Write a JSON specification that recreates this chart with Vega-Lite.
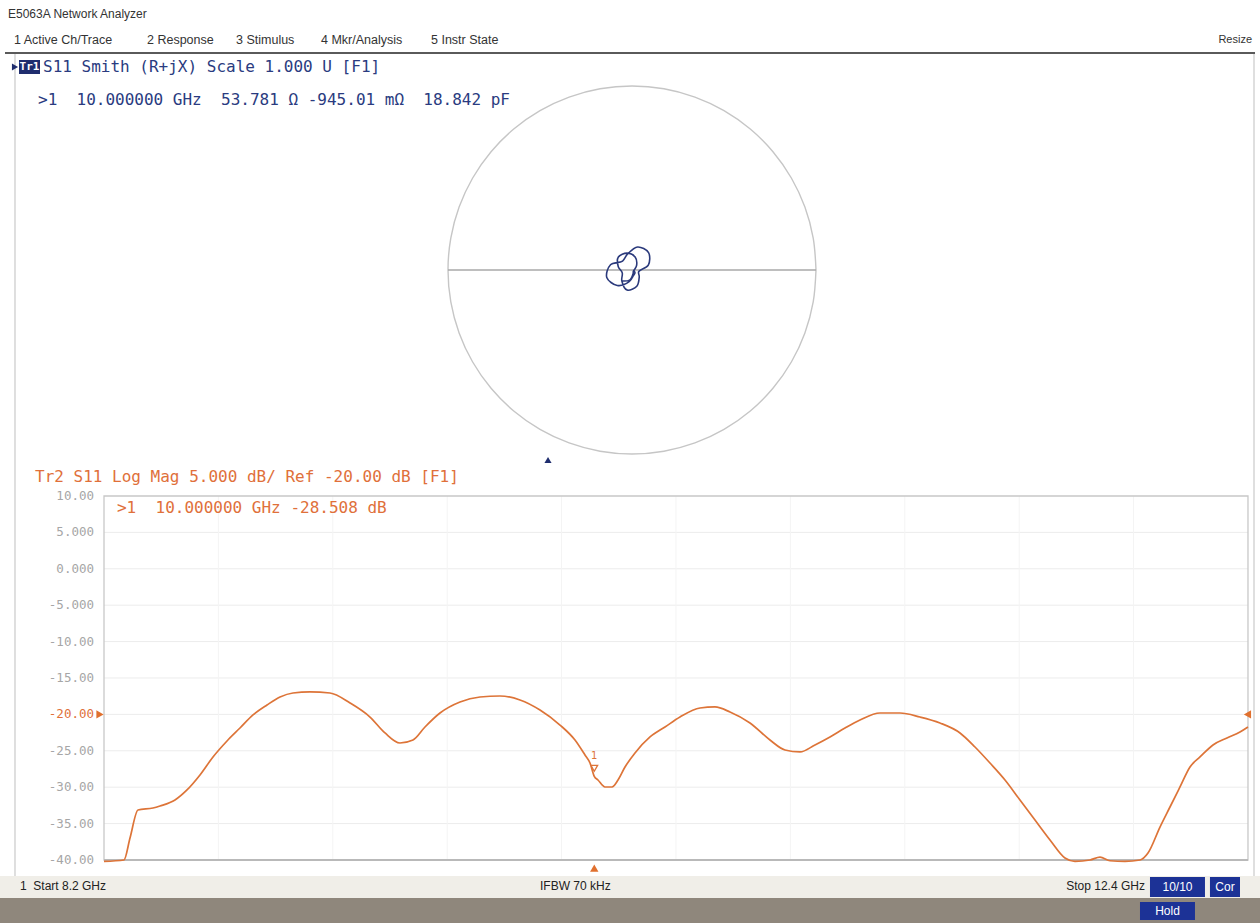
{
  "$schema": "https://vega.github.io/schema/vega-lite/v6.json",
  "width": 1260,
  "height": 923,
  "autosize": {"type": "fit", "contains": "padding"},
  "padding": 0,
  "background": "#ffffff",
  "config": {"view": {"stroke": null}},
  "resolve": {"scale": {"x": "independent", "y": "independent"}},
  "layer": [
    {
      "layer": [
        {
          "data": {"values": [{"re": -3.4076, "re2": 3.3859, "im": 1.1793}]},
          "mark": {"type": "rule", "color": "#5a5a5a", "strokeWidth": 2},
          "encoding": {
            "x": {"field": "re", "type": "quantitative", "scale": {"domain": [-3.4348, 3.413], "nice": false, "zero": false}, "axis": null},
            "x2": {"field": "re2"},
            "y": {"field": "im", "type": "quantitative", "scale": {"domain": [-3.5489, 1.4674], "nice": false, "zero": false}, "axis": null}
          }
        },
        {
          "data": {"values": [{"re": -3.3533, "im": 1.1739, "im2": -3.2935}, {"re": 3.3804, "im": 1.1739, "im2": -3.2935}]},
          "mark": {"type": "rule", "color": "#d4d4d4", "strokeWidth": 1.5},
          "encoding": {
            "x": {"field": "re", "type": "quantitative", "scale": {"domain": [-3.4348, 3.413], "nice": false, "zero": false}, "axis": null},
            "y": {"field": "im", "type": "quantitative", "scale": {"domain": [-3.5489, 1.4674], "nice": false, "zero": false}, "axis": null},
            "y2": {"field": "im2"}
          }
        },
        {
          "data": {"values": [
            {"i": 0, "re": 1, "im": 0}, {"i": 1, "re": 0.9848, "im": 0.1736}, {"i": 2, "re": 0.9397, "im": 0.342},
            {"i": 3, "re": 0.866, "im": 0.5}, {"i": 4, "re": 0.766, "im": 0.6428}, {"i": 5, "re": 0.6428, "im": 0.766},
            {"i": 6, "re": 0.5, "im": 0.866}, {"i": 7, "re": 0.342, "im": 0.9397}, {"i": 8, "re": 0.1736, "im": 0.9848},
            {"i": 9, "re": 0, "im": 1}, {"i": 10, "re": -0.1736, "im": 0.9848}, {"i": 11, "re": -0.342, "im": 0.9397},
            {"i": 12, "re": -0.5, "im": 0.866}, {"i": 13, "re": -0.6428, "im": 0.766}, {"i": 14, "re": -0.766, "im": 0.6428},
            {"i": 15, "re": -0.866, "im": 0.5}, {"i": 16, "re": -0.9397, "im": 0.342}, {"i": 17, "re": -0.9848, "im": 0.1736},
            {"i": 18, "re": -1, "im": 0}, {"i": 19, "re": -0.9848, "im": -0.1736}, {"i": 20, "re": -0.9397, "im": -0.342},
            {"i": 21, "re": -0.866, "im": -0.5}, {"i": 22, "re": -0.766, "im": -0.6428}, {"i": 23, "re": -0.6428, "im": -0.766},
            {"i": 24, "re": -0.5, "im": -0.866}, {"i": 25, "re": -0.342, "im": -0.9397}, {"i": 26, "re": -0.1736, "im": -0.9848},
            {"i": 27, "re": 0, "im": -1}, {"i": 28, "re": 0.1736, "im": -0.9848}, {"i": 29, "re": 0.342, "im": -0.9397},
            {"i": 30, "re": 0.5, "im": -0.866}, {"i": 31, "re": 0.6428, "im": -0.766}, {"i": 32, "re": 0.766, "im": -0.6428},
            {"i": 33, "re": 0.866, "im": -0.5}, {"i": 34, "re": 0.9397, "im": -0.342}, {"i": 35, "re": 0.9848, "im": -0.1736},
            {"i": 36, "re": 1, "im": 0}
          ]},
          "mark": {"type": "line", "color": "#c6c6c6", "strokeWidth": 1.4, "interpolate": "catmull-rom"},
          "encoding": {
            "x": {"field": "re", "type": "quantitative", "scale": {"domain": [-3.4348, 3.413], "nice": false, "zero": false}, "axis": null},
            "y": {"field": "im", "type": "quantitative", "scale": {"domain": [-3.5489, 1.4674], "nice": false, "zero": false}, "axis": null},
            "order": {"field": "i", "type": "quantitative"}
          }
        },
        {
          "data": {"values": [{"re": -1, "re2": 1, "im": 0}]},
          "mark": {"type": "rule", "color": "#a9a9a9", "strokeWidth": 1.6},
          "encoding": {
            "x": {"field": "re", "type": "quantitative", "scale": {"domain": [-3.4348, 3.413], "nice": false, "zero": false}, "axis": null},
            "x2": {"field": "re2"},
            "y": {"field": "im", "type": "quantitative", "scale": {"domain": [-3.5489, 1.4674], "nice": false, "zero": false}, "axis": null}
          }
        },
        {
          "data": {"values": [
            {"f": 8.2, "re": 0.0094, "im": -0.0023}, {"f": 8.35, "re": 0.0162, "im": -0.0154}, {"f": 8.5, "re": 0.0084, "im": -0.0287},
            {"f": 8.65, "re": -0.0154, "im": -0.0635}, {"f": 8.8, "re": -0.0801, "im": -0.0841}, {"f": 8.95, "re": -0.1371, "im": -0.0403},
            {"f": 9.1, "re": -0.1168, "im": 0.0283}, {"f": 9.25, "re": -0.0513, "im": 0.0488}, {"f": 9.4, "re": -0.0252, "im": 0.0855},
            {"f": 9.55, "re": 0.0303, "im": 0.1252}, {"f": 9.7, "re": 0.0899, "im": 0.0944}, {"f": 9.85, "re": 0.0885, "im": 0.0261},
            {"f": 10.0, "re": 0.0364, "im": -0.0088}, {"f": 10.15, "re": 0.0393, "im": -0.0374}, {"f": 10.3, "re": 0.0261, "im": -0.0885},
            {"f": 10.45, "re": -0.0264, "im": -0.1091}, {"f": 10.6, "re": -0.0554, "im": -0.0582}, {"f": 10.75, "re": -0.053, "im": -0.0156},
            {"f": 10.9, "re": -0.0746, "im": 0.018}, {"f": 11.05, "re": -0.0741, "im": 0.0705}, {"f": 11.2, "re": -0.027, "im": 0.0916},
            {"f": 11.35, "re": 0.017, "im": 0.0704}, {"f": 11.5, "re": 0.0253, "im": 0.0266}, {"f": 11.65, "re": 0.0151, "im": 0.0044},
            {"f": 11.8, "re": 0.0097, "im": -0.0024}, {"f": 11.95, "re": 0.0072, "im": -0.0069}, {"f": 12.1, "re": 0.0059, "im": -0.02},
            {"f": 12.25, "re": -0.0132, "im": -0.0546}, {"f": 12.4, "re": -0.0567, "im": -0.0595}
          ]},
          "mark": {"type": "line", "color": "#2b3a7c", "strokeWidth": 1.6, "interpolate": "catmull-rom"},
          "encoding": {
            "x": {"field": "re", "type": "quantitative", "scale": {"domain": [-3.4348, 3.413], "nice": false, "zero": false}, "axis": null},
            "y": {"field": "im", "type": "quantitative", "scale": {"domain": [-3.5489, 1.4674], "nice": false, "zero": false}, "axis": null},
            "order": {"field": "f", "type": "quantitative"}
          }
        },
        {
          "data": {"values": [{"re": -3.3913, "im": 1.3913, "t": "E5063A Network Analyzer"}]},
          "mark": {"type": "text", "align": "left", "baseline": "middle", "font": "Liberation Sans", "fontSize": 12, "color": "#333333"},
          "encoding": {
            "x": {"field": "re", "type": "quantitative", "scale": {"domain": [-3.4348, 3.413], "nice": false, "zero": false}, "axis": null},
            "y": {"field": "im", "type": "quantitative", "scale": {"domain": [-3.5489, 1.4674], "nice": false, "zero": false}, "axis": null},
            "text": {"field": "t"}
          }
        },
        {
          "data": {"values": [
            {"re": -3.3587, "im": 1.25, "t": "1 Active Ch/Trace"},
            {"re": -2.6359, "im": 1.25, "t": "2 Response"},
            {"re": -2.1522, "im": 1.25, "t": "3 Stimulus"},
            {"re": -1.6902, "im": 1.25, "t": "4 Mkr/Analysis"},
            {"re": -1.0924, "im": 1.25, "t": "5 Instr State"}
          ]},
          "mark": {"type": "text", "align": "left", "baseline": "middle", "font": "Liberation Sans", "fontSize": 12.5, "color": "#333333"},
          "encoding": {
            "x": {"field": "re", "type": "quantitative", "scale": {"domain": [-3.4348, 3.413], "nice": false, "zero": false}, "axis": null},
            "y": {"field": "im", "type": "quantitative", "scale": {"domain": [-3.5489, 1.4674], "nice": false, "zero": false}, "axis": null},
            "text": {"field": "t"}
          }
        },
        {
          "data": {"values": [{"re": 3.3696, "im": 1.25, "t": "Resize"}]},
          "mark": {"type": "text", "align": "right", "baseline": "middle", "font": "Liberation Sans", "fontSize": 11, "color": "#333333"},
          "encoding": {
            "x": {"field": "re", "type": "quantitative", "scale": {"domain": [-3.4348, 3.413], "nice": false, "zero": false}, "axis": null},
            "y": {"field": "im", "type": "quantitative", "scale": {"domain": [-3.5489, 1.4674], "nice": false, "zero": false}, "axis": null},
            "text": {"field": "t"}
          }
        },
        {
          "data": {"values": [{"re": -3.3315, "re2": -3.2174, "im": 1.1413, "im2": 1.0652}]},
          "mark": {"type": "rect", "color": "#1f2d6e"},
          "encoding": {
            "x": {"field": "re", "type": "quantitative", "scale": {"domain": [-3.4348, 3.413], "nice": false, "zero": false}, "axis": null},
            "x2": {"field": "re2"},
            "y": {"field": "im", "type": "quantitative", "scale": {"domain": [-3.5489, 1.4674], "nice": false, "zero": false}, "axis": null},
            "y2": {"field": "im2"}
          }
        },
        {
          "data": {"values": [{"re": -3.2745, "im": 1.1033, "t": "Tr1"}]},
          "mark": {"type": "text", "align": "center", "baseline": "middle", "font": "DejaVu Sans Mono", "fontSize": 11, "fontWeight": "bold", "color": "#ffffff"},
          "encoding": {
            "x": {"field": "re", "type": "quantitative", "scale": {"domain": [-3.4348, 3.413], "nice": false, "zero": false}, "axis": null},
            "y": {"field": "im", "type": "quantitative", "scale": {"domain": [-3.5489, 1.4674], "nice": false, "zero": false}, "axis": null},
            "text": {"field": "t"}
          }
        },
        {
          "data": {"values": [{"re": -3.3533, "im": 1.1033}, {"re": -0.4565, "im": -1.0326}]},
          "mark": {"type": "point", "filled": true, "size": 50, "color": "#1f2d6e", "opacity": 1},
          "encoding": {
            "x": {"field": "re", "type": "quantitative", "scale": {"domain": [-3.4348, 3.413], "nice": false, "zero": false}, "axis": null},
            "y": {"field": "im", "type": "quantitative", "scale": {"domain": [-3.5489, 1.4674], "nice": false, "zero": false}, "axis": null},
            "shape": {"condition": {"test": "datum.re < -3", "value": "triangle-right"}, "value": "triangle-up"}
          }
        },
        {
          "data": {"values": [
            {"re": -3.2011, "im": 1.1033, "t": "S11 Smith (R+jX) Scale 1.000 U [F1]"},
            {"re": -3.2283, "im": 0.9239, "t": ">1\u00a0\u00a010.000000 GHz\u00a0\u00a053.781 Ω -945.01 mΩ\u00a0\u00a018.842 pF"}
          ]},
          "mark": {"type": "text", "align": "left", "baseline": "middle", "font": "DejaVu Sans Mono", "fontSize": 16, "color": "#2a3b80"},
          "encoding": {
            "x": {"field": "re", "type": "quantitative", "scale": {"domain": [-3.4348, 3.413], "nice": false, "zero": false}, "axis": null},
            "y": {"field": "im", "type": "quantitative", "scale": {"domain": [-3.5489, 1.4674], "nice": false, "zero": false}, "axis": null},
            "text": {"field": "t"}
          }
        }
      ]
    },
    {
      "layer": [
        {
          "data": {"values": [
            {"f": 7.8182, "f2": 12.4441, "db": -42.198, "db2": -45.22, "part": "status"},
            {"f": 7.8182, "f2": 12.4441, "db": -45.22, "db2": -48.654, "part": "taskbar"}
          ]},
          "mark": {"type": "rect"},
          "encoding": {
            "x": {"field": "f", "type": "quantitative", "scale": {"domain": [7.8182, 12.4441], "nice": false, "zero": false}, "axis": null},
            "x2": {"field": "f2"},
            "y": {"field": "db", "type": "quantitative", "scale": {"domain": [-48.654, 78.13], "nice": false, "zero": false}, "axis": null},
            "y2": {"field": "db2"},
            "color": {"field": "part", "type": "nominal", "scale": {"domain": ["status", "taskbar"], "range": ["#f0eee8", "#8f877c"]}, "legend": null}
          }
        },
        {
          "data": {"values": [{"db": 5}, {"db": 0}, {"db": -5}, {"db": -10}, {"db": -15}, {"db": -20}, {"db": -25}, {"db": -30}, {"db": -35}]},
          "mark": {"type": "rule", "color": "#ececec", "strokeWidth": 1},
          "encoding": {
            "x": {"datum": 8.2, "type": "quantitative", "scale": {"domain": [7.8182, 12.4441], "nice": false, "zero": false}, "axis": null},
            "x2": {"datum": 12.4},
            "y": {"field": "db", "type": "quantitative", "scale": {"domain": [-48.654, 78.13], "nice": false, "zero": false}, "axis": null}
          }
        },
        {
          "data": {"values": [{"f": 8.62}, {"f": 9.04}, {"f": 9.46}, {"f": 9.88}, {"f": 10.3}, {"f": 10.72}, {"f": 11.14}, {"f": 11.56}, {"f": 11.98}]},
          "mark": {"type": "rule", "color": "#f4f4f4", "strokeWidth": 1},
          "encoding": {
            "x": {"field": "f", "type": "quantitative", "scale": {"domain": [7.8182, 12.4441], "nice": false, "zero": false}, "axis": null},
            "y": {"datum": -40, "type": "quantitative", "scale": {"domain": [-48.654, 78.13], "nice": false, "zero": false}, "axis": null},
            "y2": {"datum": 10}
          }
        },
        {
          "data": {"values": [{"f": 8.2, "f2": 12.4, "db": 10, "db2": -40}]},
          "mark": {"type": "rect", "filled": false, "stroke": "#c8c8c8", "strokeWidth": 1.3},
          "encoding": {
            "x": {"field": "f", "type": "quantitative", "scale": {"domain": [7.8182, 12.4441], "nice": false, "zero": false}, "axis": null},
            "x2": {"field": "f2"},
            "y": {"field": "db", "type": "quantitative", "scale": {"domain": [-48.654, 78.13], "nice": false, "zero": false}, "axis": null},
            "y2": {"field": "db2"}
          }
        },
        {
          "data": {"values": [{"f": 8.2, "f2": 12.4, "db": -40}]},
          "mark": {"type": "rule", "color": "#b9b9b9", "strokeWidth": 2},
          "encoding": {
            "x": {"field": "f", "type": "quantitative", "scale": {"domain": [7.8182, 12.4441], "nice": false, "zero": false}, "axis": null},
            "x2": {"field": "f2"},
            "y": {"field": "db", "type": "quantitative", "scale": {"domain": [-48.654, 78.13], "nice": false, "zero": false}, "axis": null}
          }
        },
        {
          "data": {"values": [
            {"db": 10, "t": "10.00"}, {"db": 5, "t": "5.000"}, {"db": 0, "t": "0.000"}, {"db": -5, "t": "-5.000"},
            {"db": -10, "t": "-10.00"}, {"db": -15, "t": "-15.00"}, {"db": -20, "t": "-20.00"}, {"db": -25, "t": "-25.00"},
            {"db": -30, "t": "-30.00"}, {"db": -35, "t": "-35.00"}, {"db": -40, "t": "-40.00"}
          ]},
          "mark": {"type": "text", "align": "right", "baseline": "middle", "font": "DejaVu Sans Mono", "fontSize": 12.5},
          "encoding": {
            "x": {"datum": 8.1633, "type": "quantitative", "scale": {"domain": [7.8182, 12.4441], "nice": false, "zero": false}, "axis": null},
            "y": {"field": "db", "type": "quantitative", "scale": {"domain": [-48.654, 78.13], "nice": false, "zero": false}, "axis": null},
            "text": {"field": "t"},
            "color": {"condition": {"test": "datum.db == -20", "value": "#e0703a"}, "value": "#a6a6a6"}
          }
        },
        {
          "data": {"values": [
            {"f": 8.2, "db": -40.2}, {"f": 8.2734, "db": -40.0}, {"f": 8.2955, "db": -36.98}, {"f": 8.3248, "db": -33.13},
            {"f": 8.3799, "db": -32.86}, {"f": 8.4056, "db": -32.58}, {"f": 8.4607, "db": -31.76}, {"f": 8.5047, "db": -30.38},
            {"f": 8.5524, "db": -28.32}, {"f": 8.6002, "db": -25.85}, {"f": 8.6516, "db": -23.65}, {"f": 8.6993, "db": -21.87},
            {"f": 8.747, "db": -20.08}, {"f": 8.7984, "db": -18.71}, {"f": 8.8462, "db": -17.61}, {"f": 8.8939, "db": -17.06},
            {"f": 8.9563, "db": -16.92}, {"f": 9.0297, "db": -17.06}, {"f": 9.1032, "db": -18.43}, {"f": 9.1766, "db": -20.36},
            {"f": 9.2316, "db": -22.55}, {"f": 9.2867, "db": -23.93}, {"f": 9.3344, "db": -23.52}, {"f": 9.3785, "db": -21.73},
            {"f": 9.4336, "db": -19.81}, {"f": 9.507, "db": -18.3}, {"f": 9.5804, "db": -17.61}, {"f": 9.6538, "db": -17.47},
            {"f": 9.7273, "db": -18.02}, {"f": 9.8007, "db": -19.4}, {"f": 9.8741, "db": -21.46}, {"f": 9.9292, "db": -23.52},
            {"f": 9.9659, "db": -25.58}, {"f": 9.9843, "db": -26.68}, {"f": 10.0, "db": -28.51}, {"f": 10.0136, "db": -29.01},
            {"f": 10.0393, "db": -29.97}, {"f": 10.065, "db": -29.97}, {"f": 10.0871, "db": -29.01}, {"f": 10.1128, "db": -27.23},
            {"f": 10.1495, "db": -25.3}, {"f": 10.2046, "db": -23.1}, {"f": 10.2596, "db": -21.73}, {"f": 10.3147, "db": -20.36},
            {"f": 10.3881, "db": -19.12}, {"f": 10.4432, "db": -18.98}, {"f": 10.4983, "db": -19.67}, {"f": 10.5717, "db": -21.18},
            {"f": 10.6451, "db": -23.52}, {"f": 10.7002, "db": -24.89}, {"f": 10.7553, "db": -25.16}, {"f": 10.8103, "db": -24.2},
            {"f": 10.8654, "db": -23.1}, {"f": 10.9205, "db": -21.87}, {"f": 10.9755, "db": -20.77}, {"f": 11.049, "db": -19.81},
            {"f": 11.1224, "db": -19.81}, {"f": 11.1958, "db": -20.36}, {"f": 11.2692, "db": -21.18}, {"f": 11.3427, "db": -22.55},
            {"f": 11.3977, "db": -24.48}, {"f": 11.4528, "db": -26.68}, {"f": 11.5079, "db": -29.01}, {"f": 11.5629, "db": -31.76},
            {"f": 11.618, "db": -34.51}, {"f": 11.6731, "db": -37.25}, {"f": 11.7281, "db": -39.73}, {"f": 11.7649, "db": -40.2},
            {"f": 11.82, "db": -40.0}, {"f": 11.8567, "db": -39.6}, {"f": 11.8934, "db": -40.1}, {"f": 11.9485, "db": -40.2},
            {"f": 12.0035, "db": -40.0}, {"f": 12.0329, "db": -39.04}, {"f": 12.0769, "db": -35.47}, {"f": 12.1136, "db": -32.72},
            {"f": 12.1504, "db": -29.97}, {"f": 12.1871, "db": -27.23}, {"f": 12.2238, "db": -25.85}, {"f": 12.2715, "db": -24.2},
            {"f": 12.3229, "db": -23.24}, {"f": 12.3706, "db": -22.42}, {"f": 12.4, "db": -21.73}
          ]},
          "mark": {"type": "line", "color": "#dd7438", "strokeWidth": 1.7, "interpolate": "monotone"},
          "encoding": {
            "x": {"field": "f", "type": "quantitative", "scale": {"domain": [7.8182, 12.4441], "nice": false, "zero": false}, "axis": null},
            "y": {"field": "db", "type": "quantitative", "scale": {"domain": [-48.654, 78.13], "nice": false, "zero": false}, "axis": null}
          }
        },
        {
          "data": {"values": [{"f": 10.0, "db": -28.51}]},
          "mark": {"type": "point", "shape": "triangle-down", "filled": false, "size": 45, "color": "#dd7438", "strokeWidth": 1.3, "yOffset": -8, "opacity": 1},
          "encoding": {
            "x": {"field": "f", "type": "quantitative", "scale": {"domain": [7.8182, 12.4441], "nice": false, "zero": false}, "axis": null},
            "y": {"field": "db", "type": "quantitative", "scale": {"domain": [-48.654, 78.13], "nice": false, "zero": false}, "axis": null}
          }
        },
        {
          "data": {"values": [{"f": 10.0, "db": -28.51, "t": "1"}]},
          "mark": {"type": "text", "align": "center", "baseline": "middle", "dy": -20, "font": "DejaVu Sans", "fontSize": 10, "color": "#dd7438"},
          "encoding": {
            "x": {"field": "f", "type": "quantitative", "scale": {"domain": [7.8182, 12.4441], "nice": false, "zero": false}, "axis": null},
            "y": {"field": "db", "type": "quantitative", "scale": {"domain": [-48.654, 78.13], "nice": false, "zero": false}, "axis": null},
            "text": {"field": "t"}
          }
        },
        {
          "data": {"values": [
            {"f": 10.0, "db": -41.1, "s": "triangle-up"},
            {"f": 8.1853, "db": -20, "s": "triangle-right"},
            {"f": 12.398, "db": -20, "s": "triangle-left"}
          ]},
          "mark": {"type": "point", "filled": true, "size": 70, "color": "#e0702e", "opacity": 1},
          "encoding": {
            "x": {"field": "f", "type": "quantitative", "scale": {"domain": [7.8182, 12.4441], "nice": false, "zero": false}, "axis": null},
            "y": {"field": "db", "type": "quantitative", "scale": {"domain": [-48.654, 78.13], "nice": false, "zero": false}, "axis": null},
            "shape": {"field": "s", "type": "nominal", "scale": null, "legend": null}
          }
        },
        {
          "data": {"values": [
            {"f": 7.9467, "db": 12.61, "t": "Tr2 S11 Log Mag 5.000 dB/ Ref -20.00 dB [F1]"},
            {"f": 8.2477, "db": 8.35, "t": ">1\u00a0\u00a010.000000 GHz -28.508 dB"}
          ]},
          "mark": {"type": "text", "align": "left", "baseline": "middle", "font": "DejaVu Sans Mono", "fontSize": 16, "color": "#e0703a"},
          "encoding": {
            "x": {"field": "f", "type": "quantitative", "scale": {"domain": [7.8182, 12.4441], "nice": false, "zero": false}, "axis": null},
            "y": {"field": "db", "type": "quantitative", "scale": {"domain": [-48.654, 78.13], "nice": false, "zero": false}, "axis": null},
            "text": {"field": "t"}
          }
        },
        {
          "data": {"values": [
            {"f": 7.8916, "db": -43.57, "t": "1\u00a0\u00a0Start 8.2 GHz", "a": "left"},
            {"f": 9.8007, "db": -43.57, "t": "IFBW 70 kHz", "a": "left"},
            {"f": 12.0218, "db": -43.57, "t": "Stop 12.4 GHz", "a": "right"}
          ]},
          "mark": {"type": "text", "baseline": "middle", "font": "Liberation Sans", "fontSize": 12, "color": "#222222", "align": {"expr": "datum.a"}},
          "encoding": {
            "x": {"field": "f", "type": "quantitative", "scale": {"domain": [7.8182, 12.4441], "nice": false, "zero": false}, "axis": null},
            "y": {"field": "db", "type": "quantitative", "scale": {"domain": [-48.654, 78.13], "nice": false, "zero": false}, "axis": null},
            "text": {"field": "t"}
          }
        },
        {
          "data": {"values": [
            {"f": 12.0402, "f2": 12.2421, "db": -42.335, "db2": -45.082},
            {"f": 12.2604, "f2": 12.3706, "db": -42.335, "db2": -45.082},
            {"f": 12.0035, "f2": 12.2054, "db": -45.769, "db2": -48.242}
          ]},
          "mark": {"type": "rect", "color": "#1c3296"},
          "encoding": {
            "x": {"field": "f", "type": "quantitative", "scale": {"domain": [7.8182, 12.4441], "nice": false, "zero": false}, "axis": null},
            "x2": {"field": "f2"},
            "y": {"field": "db", "type": "quantitative", "scale": {"domain": [-48.654, 78.13], "nice": false, "zero": false}, "axis": null},
            "y2": {"field": "db2"}
          }
        },
        {
          "data": {"values": [
            {"f": 12.1412, "db": -43.7, "t": "10/10"},
            {"f": 12.3155, "db": -43.7, "t": "Cor"},
            {"f": 12.1045, "db": -47.0, "t": "Hold"}
          ]},
          "mark": {"type": "text", "align": "center", "baseline": "middle", "font": "Liberation Sans", "fontSize": 12, "color": "#ffffff"},
          "encoding": {
            "x": {"field": "f", "type": "quantitative", "scale": {"domain": [7.8182, 12.4441], "nice": false, "zero": false}, "axis": null},
            "y": {"field": "db", "type": "quantitative", "scale": {"domain": [-48.654, 78.13], "nice": false, "zero": false}, "axis": null},
            "text": {"field": "t"}
          }
        }
      ]
    }
  ]
}
